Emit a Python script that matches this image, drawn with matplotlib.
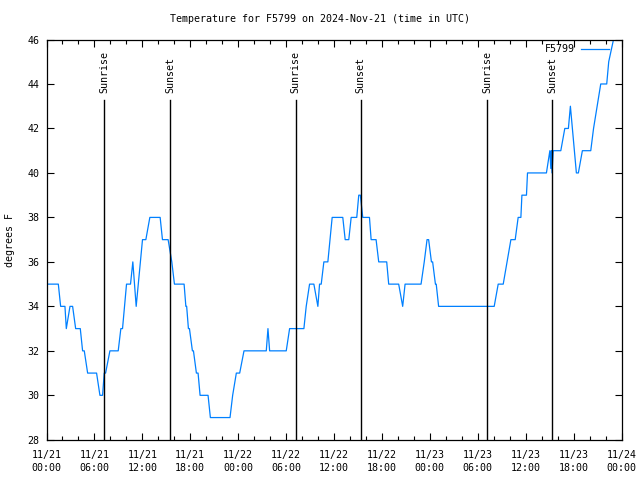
import numpy as np
import matplotlib
matplotlib.use("Agg")
import matplotlib.pyplot as plt
from matplotlib.ticker import MultipleLocator

# hours since 2024-11-21 00:00 UTC, temperature in F
hours = [0, 1.48, 1.77, 2.31, 2.48, 2.94, 3.27, 3.65, 4.23, 4.52, 4.73, 5.15,
         6.27, 6.69, 7.02, 7.23, 7.4, 7.94, 8.98, 9.31, 9.52, 10.02, 10.52,
         10.81, 11.23, 12.02, 12.44, 12.94, 14.23, 14.52, 15.23, 15.69, 16.02,
         17.23, 17.45, 17.55, 17.77, 17.9, 18.27, 18.4, 18.77, 18.98, 19.23,
         20.23, 20.52, 22.98, 23.31, 23.77, 24.19, 24.73, 27.52, 27.73, 27.94,
         30.02, 30.44, 32.23, 32.52, 32.94, 33.48, 33.98, 34.19, 34.4, 34.73,
         35.23, 35.77, 37.1, 37.4, 37.85, 38.15, 38.85, 39.1, 39.3, 39.6,
         40.44, 40.65, 41.27, 41.6, 42.6, 42.85, 44.1, 44.6, 44.9, 46.9, 47.3,
         47.65, 47.85, 48.2, 48.35, 48.7, 48.8, 49.1, 56.06, 56.56, 57.19,
         58.15, 58.69, 59.06, 59.4, 59.53, 60.1, 60.23, 62.6, 63.03, 63.15,
         63.22, 63.3, 63.45, 64.4, 64.9, 65.35, 65.6, 66.35, 66.6, 67.1,
         68.15, 68.5, 69.4, 70.15, 70.4, 71.0]
temps = [35, 35, 34, 34, 33, 34, 34, 33, 33, 32, 32, 31,
         31, 30, 30, 31, 31, 32, 32, 33, 33, 35, 35,
         36, 34, 37, 37, 38, 38, 37, 37, 36, 35,
         35, 34, 34, 33, 33, 32, 32, 31, 31, 30,
         30, 29, 29, 30, 31, 31, 32, 32, 33, 32,
         32, 33, 33, 34, 35, 35, 34, 35, 35, 36,
         36, 38, 38, 37, 37, 38, 38, 39, 39, 38,
         38, 37, 37, 36, 36, 35, 35, 34, 35, 35, 36,
         37, 37, 36, 36, 35, 35, 34, 34, 35, 35,
         37, 37, 38, 38, 39, 39, 40, 40, 41, 40.2,
         41, 40, 41, 41, 42, 42, 43, 40, 40, 41,
         41, 42, 44, 44, 45, 46]

sunrise = [7.22, 31.22, 55.22]
sunset = [15.48, 39.35, 63.35]

tick_labels = ["11/21\n00:00", "11/21\n06:00", "11/21\n12:00", "11/21\n18:00",
               "11/22\n00:00", "11/22\n06:00", "11/22\n12:00", "11/22\n18:00",
               "11/23\n00:00", "11/23\n06:00", "11/23\n12:00", "11/23\n18:00",
               "11/24\n00:00"]

plt.rcParams['font.family'] = 'DejaVu Sans Mono'
fs = 7.2

fig = plt.figure(figsize=(6.4, 4.8), dpi=100)
ax = fig.add_axes([46.5 / 640, 40.2 / 480, 575 / 640, 400.3 / 480])

ax.plot(hours, temps, color="#0080ff", lw=0.9, label="F5799")

for h in sunrise:
    ax.plot([h, h], [28, 43.3], color="black", lw=1.0)
    ax.text(h, 43.6, "Sunrise", rotation=90, ha="center", va="bottom", fontsize=fs)
for h in sunset:
    ax.plot([h, h], [28, 43.3], color="black", lw=1.0)
    ax.text(h, 43.6, "Sunset", rotation=90, ha="center", va="bottom", fontsize=fs)

ax.set_xlim(0, 72)
ax.set_ylim(28, 46)
ax.set_xticks(np.arange(0, 73, 6))
ax.set_xticklabels(tick_labels, linespacing=1.45)
ax.xaxis.set_minor_locator(MultipleLocator(2))
ax.yaxis.set_major_locator(MultipleLocator(2))
ax.tick_params(which="both", direction="in", top=True, right=True,
               labelsize=fs, width=0.8, colors="black")
ax.tick_params(which="major", length=5)
ax.tick_params(which="minor", length=3)
ax.tick_params(axis="x", pad=7)
ax.tick_params(axis="y", pad=5)
for s in ax.spines.values():
    s.set_linewidth(0.9)

ax.set_ylabel("degrees F", fontsize=fs)
ax.yaxis.set_label_coords(-0.055, 0.5)
fig.text(0.5, 1 - 19 / 480, "Temperature for F5799 on 2024-Nov-21 (time in UTC)",
         ha="center", va="center", fontsize=fs)

ax.legend(loc="upper right", bbox_to_anchor=(0.9826, 0.993), frameon=False,
          markerfirst=False, fontsize=fs, handlelength=2.8, borderaxespad=0,
          borderpad=0.2, handletextpad=0.7)

fig.savefig("out.png", dpi=100)
